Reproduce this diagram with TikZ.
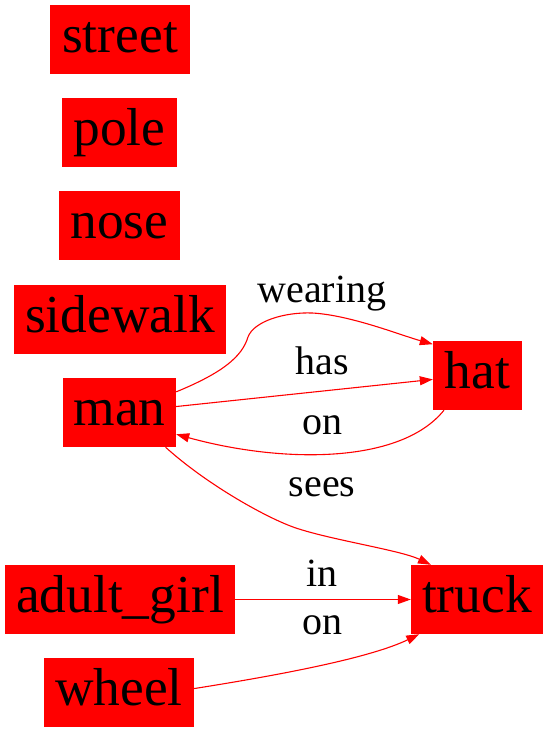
\documentclass[tikz,border=0pt]{standalone}
\usepackage{fontspec}
\newfontfamily\tmsfont{LiberationSerif}[Extension=.ttf, UprightFont=*-Regular]
\usetikzlibrary{arrows.meta}
\begin{document}
\begin{tikzpicture}[x=1pt,y=1pt,
 obj/.style={fill=red, inner sep=0pt, minimum height=69pt, font=\tmsfont\fontsize{53.4}{60}\selectfont, text height=36pt, text depth=10.6pt},
 rel/.style={anchor=base, inner sep=0pt, font=\tmsfont\fontsize{40}{46}\selectfont},
 conn/.style={draw=red, line width=1.1pt, -{Triangle[length=13pt,width=9pt]}}]
\useasboundingbox (0,0) rectangle (549,733);
\node[obj, minimum width=140pt] (street) at (120,693) {street};
\node[obj, minimum width=115pt] (pole) at (119.5,600.5) {pole};
\node[obj, minimum width=121pt] (nose) at (119.5,507.5) {nose};
\node[obj, minimum width=212pt] (sidewalk) at (120,413.5) {sidewalk};
\node[obj, minimum width=113pt] (man) at (119.5,320.5) {man};
\node[obj, minimum width=89pt] (hat) at (477.5,357.5) {hat};
\node[obj, minimum width=230pt] (girl) at (120,133.5) {adult\_girl};
\node[obj, minimum width=132pt] (truck) at (477,133.5) {truck};
\node[obj, minimum width=150pt] (wheel) at (119,40.5) {wheel};

\node[rel] (lwearing) at (322,430) {wearing};
\node[rel] (lhas) at (322,358) {has};
\node[rel] (lon1) at (322,298) {on};
\node[rel] (lsees) at (322,236) {sees};
\node[rel] (lin) at (322,146) {in};
\node[rel] (lon2) at (322,98) {on};

\draw[conn] (man.20) .. controls (222,360) and (242,376) .. (248,396)
  .. controls (254,412) and (285,421) .. (312,420)
  .. controls (350,418) and (400,398) .. (hat.145.6);
\draw[conn] (man.6.6) -- (hat.185.8);
\draw[conn] (hat.226.7) .. controls (400,268) and (280,270) .. (man.-21.7);
\draw[conn] (man.-37) .. controls (205,250) and (263,217) .. (293,206)
  .. controls (328,193.5) and (400,183) .. (truck.143.7);
\draw[conn] (girl.east) -- (truck.west);
\draw[conn] (wheel.3.4) .. controls (280,58) and (370,75) .. (truck.211.2);
\end{tikzpicture}
\end{document}
